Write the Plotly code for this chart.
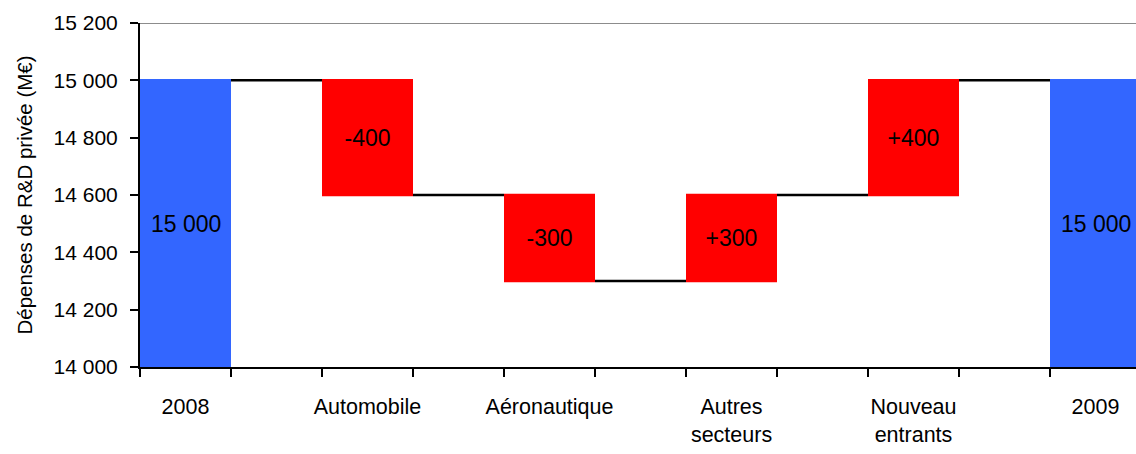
import plotly.graph_objects as go

# Évolution des dépenses de R&D privée entre 2008 et 2009 (M€)
categories = ["2008", "Automobile", "Aéronautique", "Autres<br>secteurs", "Nouveau<br>entrants", "2009"]
measures = ["absolute", "relative", "relative", "relative", "relative", "total"]
values = [15000, -400, -300, 300, 400, 15000]

y_min, y_max = 14000, 15200
y_ticks = [14000, 14200, 14400, 14600, 14800, 15000, 15200]
y_ticklabels = ["14 000", "14 200", "14 400", "14 600", "14 800", "15 000", "15 200"]


def fmt(v, m):
    s = f"{abs(v):,}".replace(",", " ")
    if m == "relative":
        return ("+" if v > 0 else "-") + s
    return s


labels = [fmt(v, m) for v, m in zip(values, measures)]
# each category occupies two slots: the bar, then the gap with its connector
x_pos = [2 * i + 0.5 for i in range(len(categories))]

FONT = "Liberation Sans, Arial, sans-serif"
BLUE = "#3366FF"
RED = "#FF0000"

# relative bars carry their label inside; the level bars get theirs as
# annotations centred on the visible part of the bar
bar_text = [lab if m == "relative" else "" for lab, m in zip(labels, measures)]

fig = go.Figure(
    go.Waterfall(
        x=x_pos,
        y=values,
        measure=measures,
        width=[1] * len(x_pos),
        text=bar_text,
        textposition="inside",
        insidetextanchor="middle",
        textfont=dict(family=FONT, size=23, color="black"),
        constraintext="none",
        increasing=dict(marker=dict(color=RED)),
        decreasing=dict(marker=dict(color=RED)),
        totals=dict(marker=dict(color=BLUE)),
        connector=dict(mode="between", line=dict(color="black", width=2.5)),
        hoverinfo="skip",
    )
)

annotations = []
for xp, v, m, lab in zip(x_pos, values, measures, labels):
    if m != "relative":
        annotations.append(dict(
            x=xp, y=(y_min + v) / 2, xref="x", yref="y", text=lab,
            showarrow=False, font=dict(family=FONT, size=23, color="black"),
        ))

fig.update_layout(
    width=1136,
    height=454,
    margin=dict(l=140, r=0, t=23, b=87),
    paper_bgcolor="white",
    plot_bgcolor="white",
    showlegend=False,
    font=dict(family=FONT, size=20, color="black"),
    annotations=annotations,
    xaxis=dict(
        range=[0, 10.945],
        tickmode="array",
        tickvals=x_pos,
        ticktext=categories,
        ticks="",
        ticklabelstandoff=19,
        showgrid=False,
        zeroline=False,
        showline=True,
        linecolor="black",
        linewidth=2,
        tickfont=dict(family=FONT, size=21.5, color="black"),
        minor=dict(
            tickmode="array",
            tickvals=list(range(0, 11)),
            ticks="outside",
            ticklen=8,
            tickwidth=2,
            tickcolor="black",
            showgrid=False,
        ),
    ),
    yaxis=dict(
        range=[y_min, y_max],
        tickmode="array",
        tickvals=y_ticks,
        ticktext=y_ticklabels,
        ticks="outside",
        ticklen=8,
        tickwidth=2,
        tickcolor="black",
        ticklabelstandoff=8,
        showgrid=False,
        zeroline=False,
        showline=True,
        linecolor="black",
        linewidth=2,
        tickfont=dict(family=FONT, size=21, color="black"),
        title=dict(text="Dépenses de R&D privée (M€)", font=dict(family=FONT, size=20.5), standoff=15),
    ),
    shapes=[
        dict(type="line", xref="paper", yref="y", x0=0, x1=1, y0=y_max, y1=y_max,
             line=dict(color="#8c8c8c", width=2)),
    ],
)

fig.write_html("out.html")
